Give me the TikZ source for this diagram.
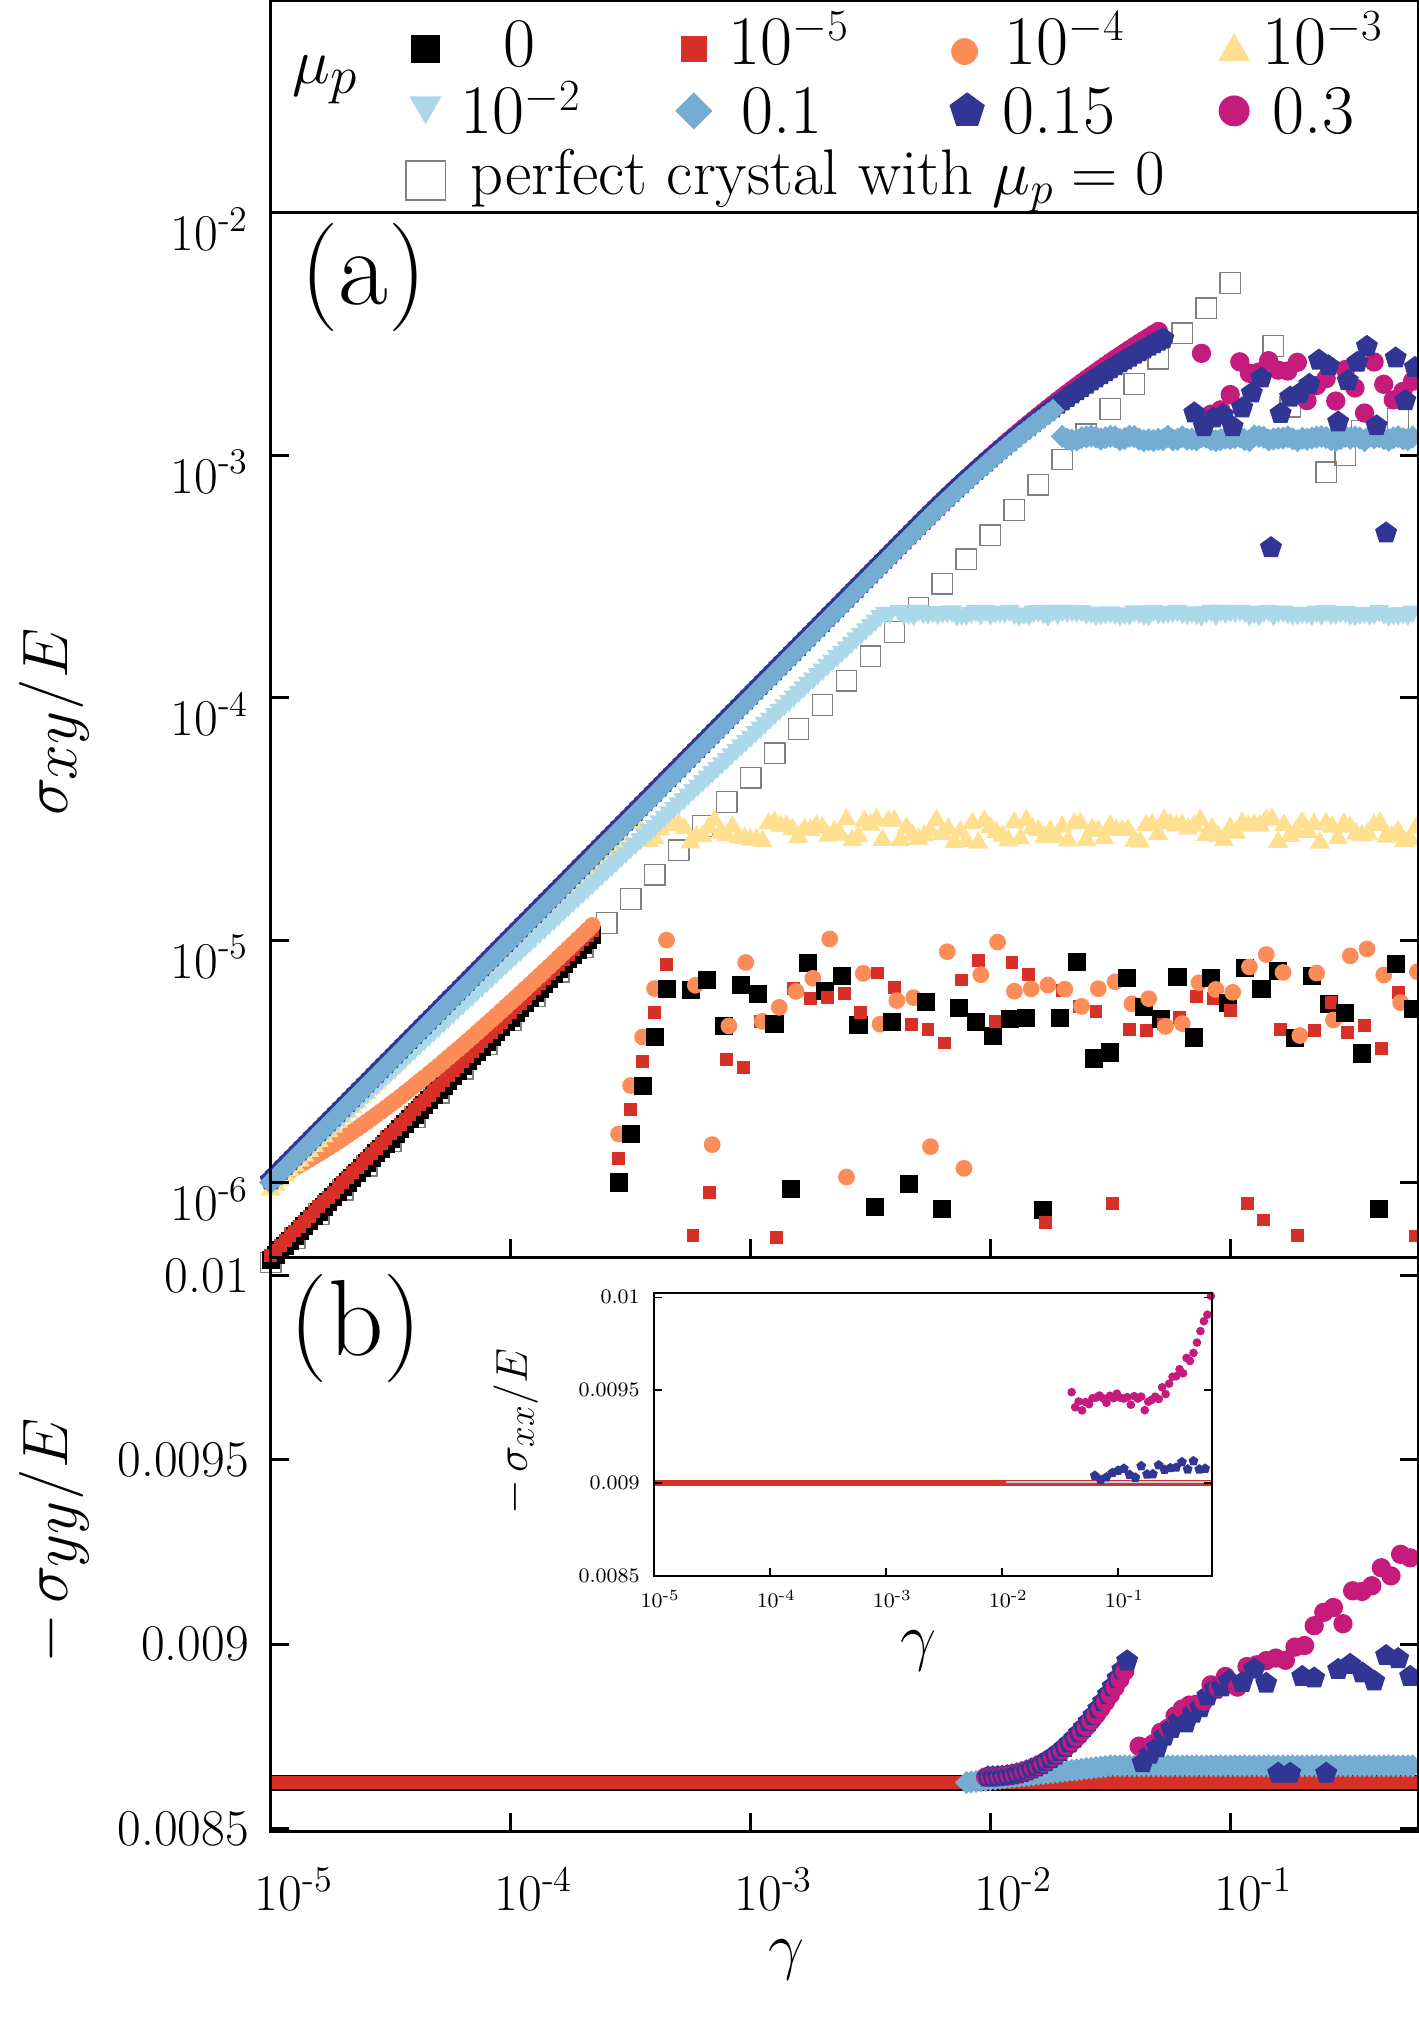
\documentclass[tikz,border=0pt]{standalone}
\usetikzlibrary{shapes.geometric}
\definecolor{cred}{RGB}{215,48,39}
\definecolor{corange}{RGB}{252,141,89}
\definecolor{cyellow}{RGB}{254,224,144}
\definecolor{clb}{RGB}{171,217,233}
\definecolor{cblue}{RGB}{116,173,209}
\definecolor{cnavy}{RGB}{49,54,149}
\definecolor{cmag}{RGB}{197,27,125}
\tikzset{
 mk/.style={inner sep=0pt,outer sep=0pt},
 m0/.style={mk,rectangle,fill=black,minimum size=7pt},
 m5/.style={mk,rectangle,fill=cred,minimum size=5pt},
 m4/.style={mk,circle,fill=corange,minimum size=6.5pt},
 m3/.style={mk,regular polygon,regular polygon sides=3,fill=cyellow,minimum size=9pt},
 m2/.style={mk,regular polygon,regular polygon sides=3,shape border rotate=180,fill=clb,minimum size=9pt},
 m1/.style={mk,diamond,fill=cblue,minimum size=9pt},
 m15/.style={mk,regular polygon,regular polygon sides=5,fill=cnavy,minimum size=9pt},
 m30/.style={mk,circle,fill=cmag,minimum size=7.5pt},
 mpc/.style={mk,rectangle,draw=gray,line width=0.5pt,minimum size=8pt},
 frame/.style={line width=1.2pt},
 tl/.style={font=\fontsize{20}{24}\selectfont},
 itl/.style={font=\fontsize{8}{10}\selectfont},
 lg/.style={font=\fontsize{27}{30}\selectfont,anchor=west},
}
\newcommand\pA[3]{\pgfmathsetmacro\xx{210+186*((#2)+5)}\pgfmathsetmacro\yy{165+188*(-2-(#3))}\node[#1] at (\xx,\yy) {};}
\newcommand\pB[3]{\pgfmathsetmacro\xx{210+186*((#2)+5)}\pgfmathsetmacro\yy{1275-((#3)-90)*28.6}\node[#1] at (\xx,\yy) {};}
\newcommand\pI[3]{\pgfmathsetmacro\xx{507+90*((#2)+5)}\pgfmathsetmacro\yy{1150-((#3)-90)*14.4}\node[#1,scale=0.45] at (\xx,\yy) {};}
\begin{document}
\begin{tikzpicture}[x=0.5pt,y=-0.5pt]
\useasboundingbox (0,0) rectangle (1100,1568);
\pgfmathsetseed{7}
% ---------- legend
\draw[frame] (210,0) rectangle (1100,165);
\node[font=\fontsize{30}{34}\selectfont] (lmu) at (252,62) {$\mu_p$};
\node[m0,scale=1.6] (l0) at (330,38) {};
\node[lg] (t0) at (383,34) {0};
\node[m5,scale=2] (l5) at (538,38) {};
\node[lg] (t5) at (558,30) {10$^{-5}$};
\node[m4,scale=1.6] (l4) at (748,40) {};
\node[lg] (t4) at (772,30) {10$^{-4}$};
\node[m3,scale=1.6] (l3) at (957,40) {};
\node[lg] (t3) at (972,30) {10$^{-3}$};
\node[m2,scale=1.6] (l2) at (330,82) {};
\node[lg] (t2) at (350,84) {10$^{-2}$};
\node[m1,scale=1.6] (l1) at (538,86) {};
\node[lg] (t1) at (568,86) {0.1};
\node[m15,scale=1.6] (l15) at (750,86) {};
\node[lg] (t15) at (770,86) {0.15};
\node[m30,scale=1.6] (l30) at (957,86) {};
\node[lg] (t30) at (980,86) {0.3};
\node[mpc,scale=1.9] (lpc) at (330,140) {};
\node[font=\fontsize{25}{30}\selectfont,anchor=west] (tpc) at (358,140) {perfect crystal with $\mu_p=0$};
% ---------- panel (a) data
\foreach \u in {-5,-4.9,...,-0.94} {\pA{mpc}{\u}{\u-1.33+0.04*max(0,\u+2)}}
\pA{mpc}{-0.82}{-2.55}\pA{mpc}{-0.75}{-2.8}\pA{mpc}{-0.6}{-3.07}\pA{mpc}{-0.45}{-2.9}\pA{mpc}{-0.3}{-2.85}\pA{mpc}{-0.52}{-3.0}
\foreach \u in {-5,-4.98,...,-3.64} {\pA{m0}{\u}{\u-1.32}}
\foreach \u in {-5,-4.98,...,-3.64} {\pA{m5}{\u}{\u-1.3}}
\foreach \u in {-5,-4.98,...,-3.64} {\pA{m4}{\u}{\u-1.3+log10(1+0.52*pow(10,-4.7-\u))}}
\foreach \u in {-3.55,-3.5,...,-3.3} {\pA{m0}{\u}{-6+(\u+3.55)*4}\pA{m5}{\u}{-5.9+(\u+3.55)*4}\pA{m4}{\u}{-5.8+(\u+3.55)*4}}
\foreach \u in {-3.25,-3.18,...,-0.22} {
  \pgfmathsetmacro\vv{ifthenelse(rnd<0.13,-6.0-0.15*rnd,-5.05-0.25*rnd-0.25*rnd)}\pA{m0}{\u}{\vv}
  \pgfmathsetmacro\vv{ifthenelse(rnd<0.13,-6.0-0.25*rnd,-5.05-0.25*rnd-0.25*rnd)}\pA{m5}{\u+0.01}{\vv}
  \pgfmathsetmacro\vv{ifthenelse(rnd<0.1,-5.8-0.2*rnd,-4.97-0.2*rnd-0.25*rnd)}\pA{m4}{\u+0.02}{\vv}
}
\foreach \u in {-5,-4.98,...,-3.52} {\pA{m3}{\u}{\u-1.03}}
\foreach \u in {-3.5,-3.475,...,-0.22} {\pA{m3}{\u}{-4.55+0.05*rand}}
\foreach \u in {-5,-4.98,...,-2.4} {\pA{m2}{\u}{min(\u-1-0.08*(\u+5),-3.65)}}
\foreach \u in {-2.38,-2.36,...,-0.22} {\pA{m2}{\u}{-3.65+0.01*rand}}
\foreach \u in {-5,-4.98,...,-1.28} {\pA{m30}{\u}{\u-0.99-0.2*pow(max(0,\u+2.3),2)}}
\foreach \u in {-5,-4.98,...,-1.26} {\pA{m15}{\u}{\u-0.99-0.24*pow(max(0,\u+2.3),2)}}
\foreach \u in {-5,-4.98,...,-1.72} {\pA{m1}{\u}{\u-1.0-0.24*pow(max(0,\u+2.3),2)}}
\foreach \u in {-1.7,-1.68,...,-0.22} {\pA{m1}{\u}{-2.93+0.01*rand}}
\foreach \u in {-1.12,-1.08,...,-0.22} {\pA{m30}{\u}{-2.55-0.3*rnd}}
\foreach \u in {-1.15,-1.11,...,-0.22} {\pgfmathsetmacro\vv{ifthenelse(rnd<0.1,-3.3-0.15*rnd,-2.55-0.35*rnd)}\pA{m15}{\u}{\vv}}
% ---------- panel (a) axes
\draw[frame] (210,165) rectangle (1100,975);
\foreach \k/\lab in {0/-2,1/-3,2/-4,3/-5,4/-6} {
  \draw[frame] (210,165+188*\k) -- ++(14,0);
  \draw[frame] (1100,165+188*\k) -- ++(-14,0);
  \node[tl,anchor=east] at (200,178+188*\k) {10\textsuperscript{\lab}};}
\foreach \k in {1,2,3,4} {\draw[frame] (210+186*\k,975) -- ++(0,-14);}
\node[font=\fontsize{42}{46}\selectfont] (la) at (282,215) {(a)};
\node[rotate=90,font=\fontsize{52}{56}\selectfont] (ya) at (42,560) {$\sigma_{xy}/E$};
% ---------- panel (b) data
\fill[cred,draw=black,line width=0.6pt] (210,1377) rectangle (1100,1388);
\foreach \u in {-2.1,-2.08,...,-0.22} {\pB{m1}{\u}{86.25+0.45*min(1,max(0,(\u+2.1)/0.6))}}
\foreach \u in {-2.02,-2.0,...,-1.42} {\pB{m30}{\u}{86.4+3.1*pow((\u+2.02)/0.6,2.3)}\pB{m15}{\u+0.01}{86.4+3.4*pow((\u+2.02)/0.6,2.3)}}
\foreach \u in {-1.38,-1.35,...,-1.0} {\pB{m30}{\u}{87.1+2.1*(\u+1.38)/0.38+0.15*rand}\pB{m15}{\u+0.015}{86.9+2.3*(\u+1.38)/0.38+0.15*rand}}
\foreach \u in {-0.97,-0.93,...,-0.22} {\pB{m30}{\u}{88.9+3.5*(\u+0.97)/0.75+0.4*rand}}
\foreach \u in {-0.95,-0.9,...,-0.22} {\pgfmathsetmacro\vv{ifthenelse(rnd<0.1,86.5,88.6+1.2*rnd)}\pB{m15}{\u}{\vv}}
% ---------- panel (b) axes
\draw[frame] (210,975) rectangle (1100,1420);
\foreach \s/\lab in {100/0.01,95/0.0095,90/0.009,85/0.0085} {
  \draw[frame] (210,{1275-(\s-90)*28.6}) -- ++(14,0);
  \draw[frame] (1100,{1275-(\s-90)*28.6}) -- ++(-14,0);
  \node[tl,anchor=east] at (200,{1275-(\s-90)*28.6}) {\lab};}
\foreach \k/\lab in {0/-5,1/-4,2/-3,3/-2,4/-1} {
  \draw[frame] (210+186*\k,1420) -- ++(0,-14);
  \node[tl] at (228+186*\k,1465) {10\textsuperscript{\lab}};}
\node[font=\fontsize{42}{46}\selectfont] (lb) at (276,1030) {(b)};
\node[rotate=90,font=\fontsize{52}{56}\selectfont] (yb) at (42,1195) {$-\,\sigma_{yy}/E$};
\node[font=\fontsize{56}{60}\selectfont] (gx) at (610,1520) {$\gamma$};
% ---------- inset
\fill[white] (507,1003) rectangle (940,1222);
\draw[cred,line width=2pt] (507,1150) -- (940,1150);
\draw[clb,line width=0.8pt] (780,1149) -- (940,1149);
\foreach \u in {-1.4,-1.37,...,-0.2} {\pI{m30}{\u}{94.4+0.5*rand+5.6*pow(max(0,\u+0.75)/0.55,2)}}
\foreach \u in {-1.2,-1.15,...,-0.2} {\pI{m15}{\u}{90.3+0.8*(\u+1.2)+0.3*rand}}
\draw[line width=0.8pt] (507,1003) rectangle (940,1222);
\foreach \s/\lab in {100/0.01,95/0.0095,90/0.009,85/0.0085} {
  \draw[line width=0.6pt] (507,{1150-(\s-90)*14.4}) -- ++(6,0);
  \draw[line width=0.6pt] (940,{1150-(\s-90)*14.4}) -- ++(-6,0);
  \node[itl,anchor=east] at (503,{1150-(\s-90)*14.4}) {\lab};}
\foreach \k/\lab in {0/-5,1/-4,2/-3,3/-2,4/-1} {
  \draw[line width=0.6pt] (507+90*\k,1222) -- ++(0,-6);
  \node[itl] at (512+90*\k,1240) {10\textsuperscript{\lab}};}
\node[rotate=90,font=\fontsize{19}{22}\selectfont] (yi) at (400,1110) {$-\,\sigma_{xx}/E$};
\node[font=\fontsize{26}{30}\selectfont] (gi) at (712,1280) {$\gamma$};
\end{tikzpicture}
\end{document}
